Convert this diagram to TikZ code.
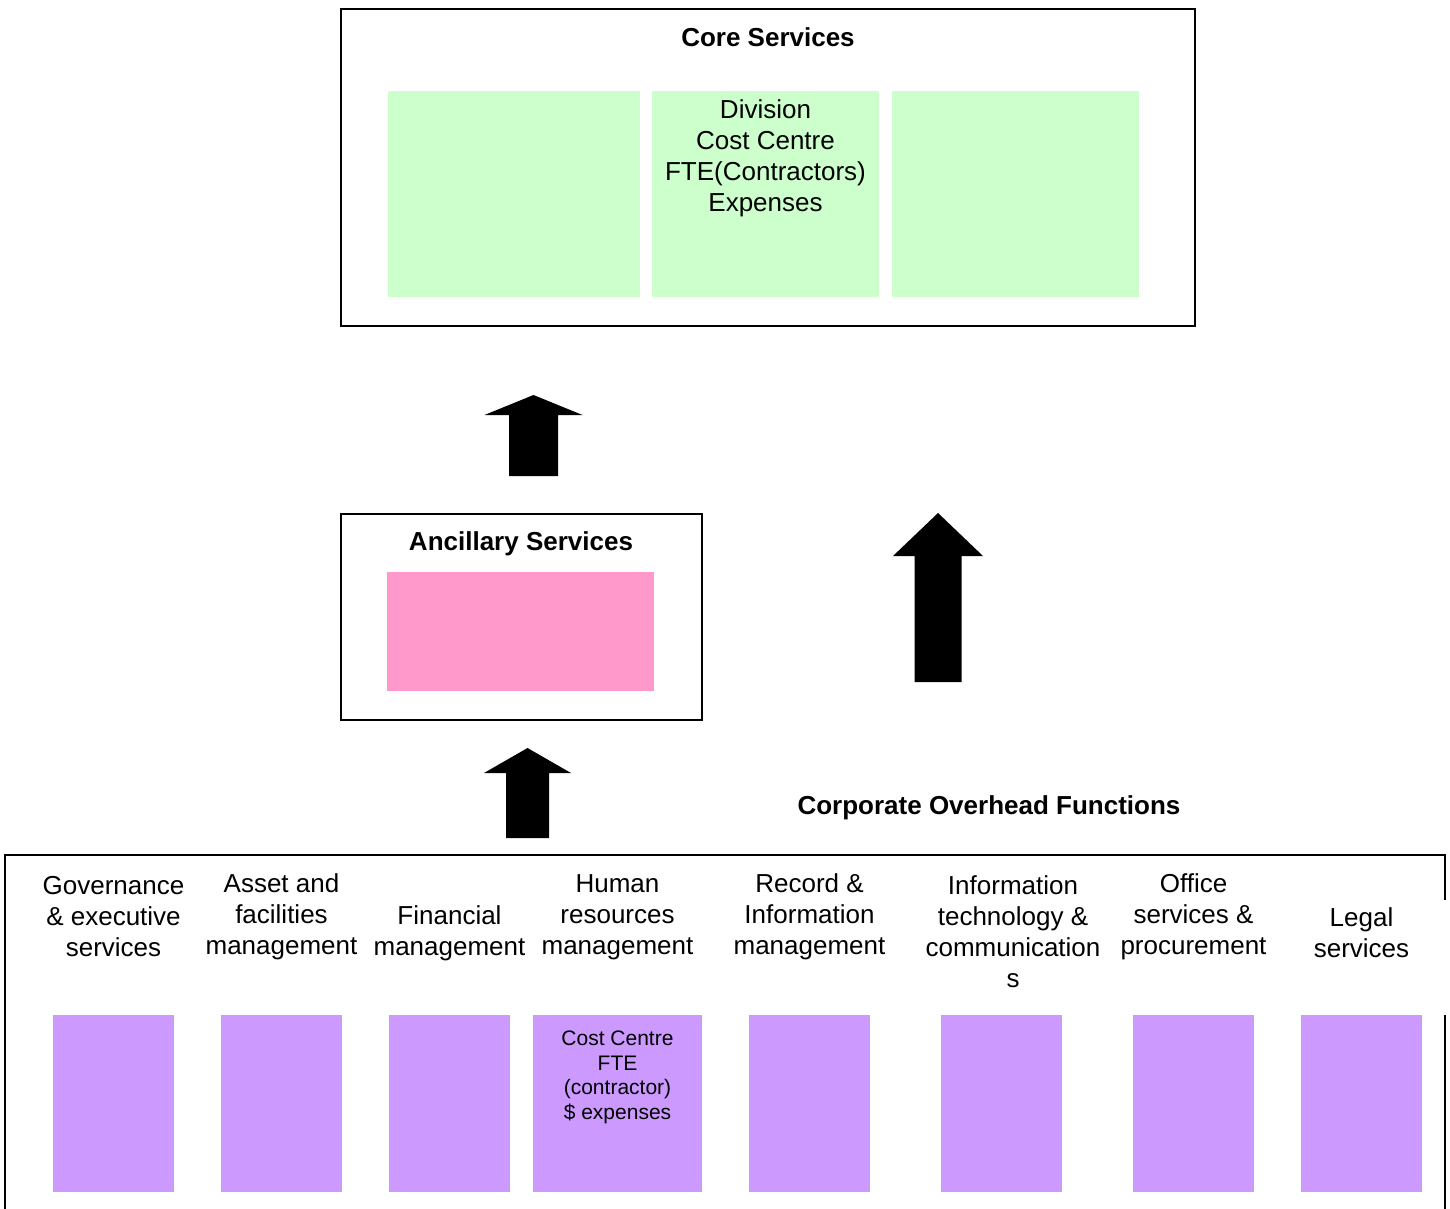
\documentclass[tikz,border=0pt]{standalone}
\usepackage{fontspec}
\setmainfont{Liberation Sans}
\usetikzlibrary{positioning}

\definecolor{coregreen}{HTML}{CCFFCC}
\definecolor{ancpink}{HTML}{FF99CC}
\definecolor{ohpurple}{HTML}{CC99FF}

\tikzset{
  frame/.style={draw,line width=1pt,inner sep=0pt},
  cell/.style={inner sep=0pt,minimum width=60.5pt,minimum height=88.5pt,fill=ohpurple},
  heading/.style={font=\fontsize{13}{15.5}\selectfont\bfseries,inner sep=0pt},
  label/.style={font=\fontsize{13}{15.5}\selectfont,align=center,inner sep=0pt},
  small/.style={font=\fontsize{10.5}{12.25}\selectfont,align=center,inner sep=0pt}
}

% block arrow pointing up: tip x, tip y, head half width, head base y, shaft half width, bottom y
\newcommand{\blockup}[6]{%
  \fill (#1,#2) -- (#1+#3,#4) -- (#1+#5,#4) -- (#1+#5,#6) -- (#1-#5,#6) -- (#1-#5,#4) -- (#1-#3,#4) -- cycle;}

\begin{document}
\begin{tikzpicture}[x=0.5pt,y=-0.5pt]
        \useasboundingbox (0,0) rectangle (1450,1209);

        % core services
        \node[frame,minimum width=427pt,minimum height=158.5pt] (core) at (768,167.5) {};
        \node[heading] (coretitle) at (768,37) {Core Services};
        \node[fill=coregreen,inner sep=0pt,minimum width=126pt,minimum height=103pt] (g1) at (514,194) {};
        \node[fill=coregreen,inner sep=0pt,minimum width=113.5pt,minimum height=103pt] (g2) at (765.5,194) {};
        \node[fill=coregreen,inner sep=0pt,minimum width=123.5pt,minimum height=103pt] (g3) at (1015.5,194) {};
        \node[label,below=4.5pt of g2.north] (divtext) {Division\\Cost Centre\\FTE(Contractors)\\Expenses};

        % ancillary services
        \node[frame,minimum width=180.5pt,minimum height=103pt] (anc) at (521.5,617) {};
        \node[heading] (anctitle) at (521,544) {Ancillary Services};
        \node[fill=ancpink,inner sep=0pt,minimum width=133.5pt,minimum height=59.5pt] (pink) at (520.5,631.5) {};

        % arrows
        \blockup{533.5}{395}{49}{415}{24.5}{476}
        \blockup{938}{513}{45}{556}{23.5}{682}
        \blockup{527.5}{748}{43.5}{773}{21.5}{838}

        % corporate overhead functions
        \node[heading] (ohtitle) at (989,808) {Corporate Overhead Functions};
        \draw[line width=1pt] (5,1230) |- (1445,855) -- (1445,900);
        \draw[line width=1pt] (1445,1015) -- (1445,1230);

        \node[label] (gov) at (113.5,917) {Governance\\\& executive\\services};
        \node[label] (asset) at (281.5,917) {Asset and\\facilities\\management};
        \node[label] (fin) at (449.5,933) {Financial\\management};
        \node[label] (hr) at (617.5,917) {Human\\resources\\management};
        \node[label] (rec) at (809.5,917) {Record \&\\Information\\management};
        \node[label] (ict) at (1013,932) {Information\\technology \&\\communication\\s};
        \node[label] (office) at (1193.5,917) {Office\\services \&\\procurement};
        \node[label] (legal) at (1361.5,933) {Legal\\services};

        \node[cell] (c1) at (113.5,1103.5) {};
        \node[cell] (c2) at (281.5,1103.5) {};
        \node[cell] (c3) at (449.5,1103.5) {};
        \node[cell,minimum width=84.5pt] (c4) at (617.5,1103.5) {};
        \node[cell] (c5) at (809.5,1103.5) {};
        \node[cell] (c6) at (1001.5,1103.5) {};
        \node[cell] (c7) at (1193.5,1103.5) {};
        \node[cell] (c8) at (1361.5,1103.5) {};
        \node[small,below=8pt of c4.north] (hrtext) {Cost Centre\\FTE\\(contractor)\\\$ expenses};
\end{tikzpicture}
\end{document}
